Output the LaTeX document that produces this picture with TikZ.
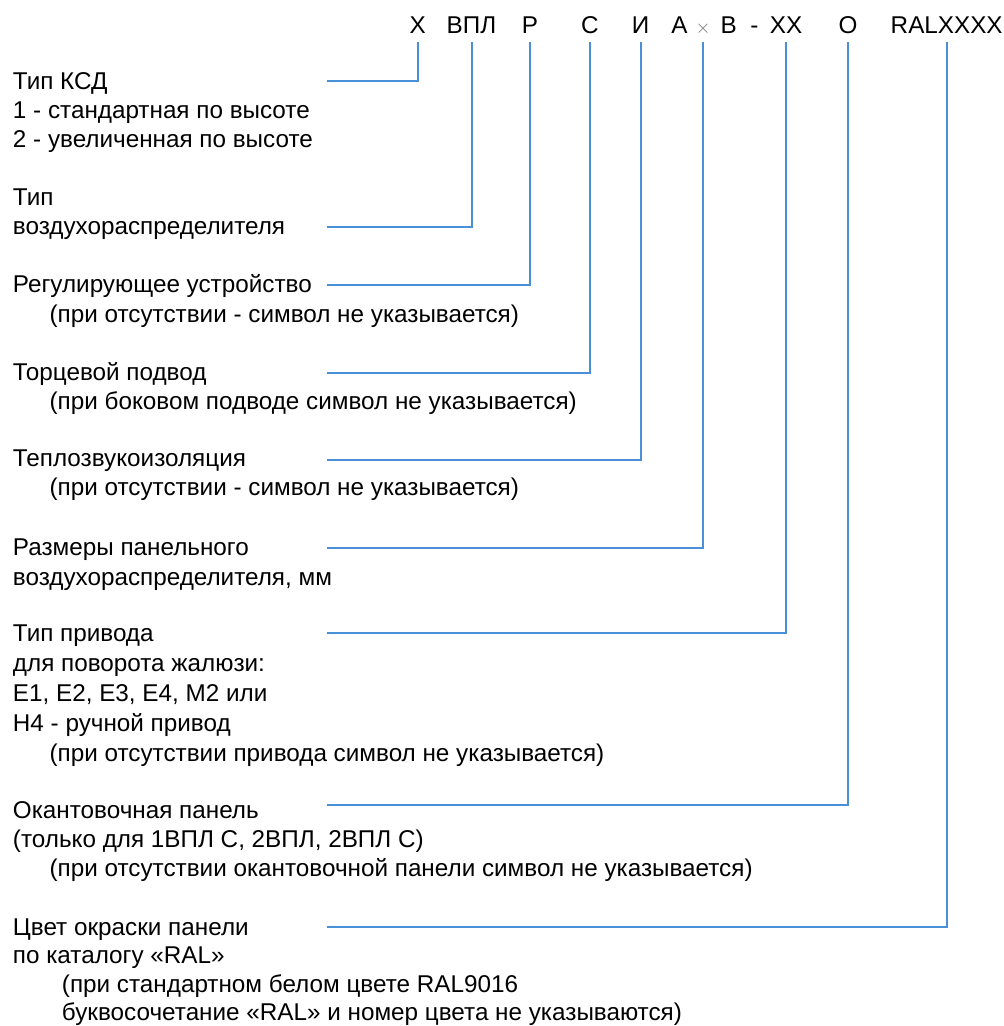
\documentclass[tikz,border=0pt]{standalone}
\usepackage{fontspec}
\setmainfont{Liberation Sans}
\definecolor{leaderblue}{RGB}{74,144,217}
\newcommand{\notelines}[1]{\begin{tabular}[t]{@{}l@{}}#1\end{tabular}}
\newcommand{\ind}{\hspace*{27.5pt}}
\newcommand{\indd}{\hspace*{36.75pt}}

\begin{document}
\begin{tikzpicture}[x=0.75pt, y=-0.75pt,
    code/.style={anchor=base, inner sep=0pt, outer sep=6.5pt, text depth=0pt,
      font=\fontsize{18.2}{22}\selectfont},
    note/.style={anchor=base west, inner sep=0pt,
      font=\fontsize{18.2}{#1}\selectfont},
    note/.default=22,
    leader/.style={draw=leaderblue, line width=1.5pt}]
  \useasboundingbox (0,0) rectangle (1004,1026);
  \begin{scope}[every node/.style={code}]
    \node (hX) at (417.8,33) {X};
    \node (hVPL) at (471.5,33) {ВПЛ};
    \node (hR) at (530,33) {Р};
    \node (hS) at (590,33) {С};
    \node (hI) at (640.5,33) {И};
    \node (hA) at (679.5,33) {А};
    \node[font=\fontsize{15}{15}\selectfont, text=black!55] (hTimes) at (703,33) {$\times$};
    \node (hB) at (728.8,33) {В};
    \node (hDash) at (754.5,33) {-};
    \node (hXX) at (786,33) {XX};
    \node (hO) at (848,33) {О};
    \node (hRAL) at (946.7,33) {RALXXXX};
  \end{scope}
  \node[note=21.75] (nKSD) at (12.7,89.3) {\notelines{Тип КСД\\1 - стандартная по высоте\\2 - увеличенная по высоте}};
  \node[note=21.75] (nVPL) at (12.7,205) {\notelines{Тип\\воздухораспределителя}};
  \node[note=22.5] (nR) at (12.7,292.3) {\notelines{Регулирующее устройство\\\ind(при отсутствии - символ не указывается)}};
  \node[note=21.75] (nS) at (12.7,380) {\notelines{Торцевой подвод\\\ind(при боковом подводе символ не указывается)}};
  \node[note=21.4] (nI) at (12.7,466.7) {\notelines{Теплозвукоизоляция\\\ind(при отсутствии - символ не указывается)}};
  \node[note=22.5] (nAB) at (12.7,555) {\notelines{Размеры панельного\\воздухораспределителя, мм}};
  \node[note=22.5] (nXX) at (12.7,641.7) {\notelines{Тип привода\\для поворота жалюзи:\\Е1, Е2, Е3, Е4, М2 или\\Н4 - ручной привод\\\ind(при отсутствии привода символ не указывается)}};
  \node[note=21.9] (nO) at (12.7,818.3) {\notelines{Окантовочная панель\\(только для 1ВПЛ С, 2ВПЛ, 2ВПЛ С)\\\ind(при отсутствии окантовочной панели символ не указывается)}};
  \node[note=21.2] (nRAL) at (12.7,935.7) {\notelines{Цвет окраски панели\\по каталогу «RAL»\\\indd(при стандартном белом цвете RAL9016\\\indd буквосочетание «RAL» и номер цвета не указываются)}};
  \coordinate (sKSD) at (326.7,81);
  \coordinate (sVPL) at (326.7,227.3);
  \coordinate (sR) at (326.7,285);
  \coordinate (sS) at (326.7,372.7);
  \coordinate (sI) at (326.7,460);
  \coordinate (sAB) at (326.7,548.3);
  \coordinate (sXX) at (326.7,632.7);
  \coordinate (sO) at (326.7,805);
  \coordinate (sRAL) at (326.7,926.7);
  \draw[leader] (sKSD) -| (hX.south);
  \draw[leader] (sVPL) -| (hVPL.south);
  \draw[leader] (sR) -| (hR.south);
  \draw[leader] (sS) -| (hS.south);
  \draw[leader] (sI) -| (hI.south);
  \draw[leader] (sAB) -| (hTimes.south);
  \draw[leader] (sXX) -| (hXX.south);
  \draw[leader] (sO) -| (hO.south);
  \draw[leader] (sRAL) -| (hRAL.south);
\end{tikzpicture}
\end{document}
